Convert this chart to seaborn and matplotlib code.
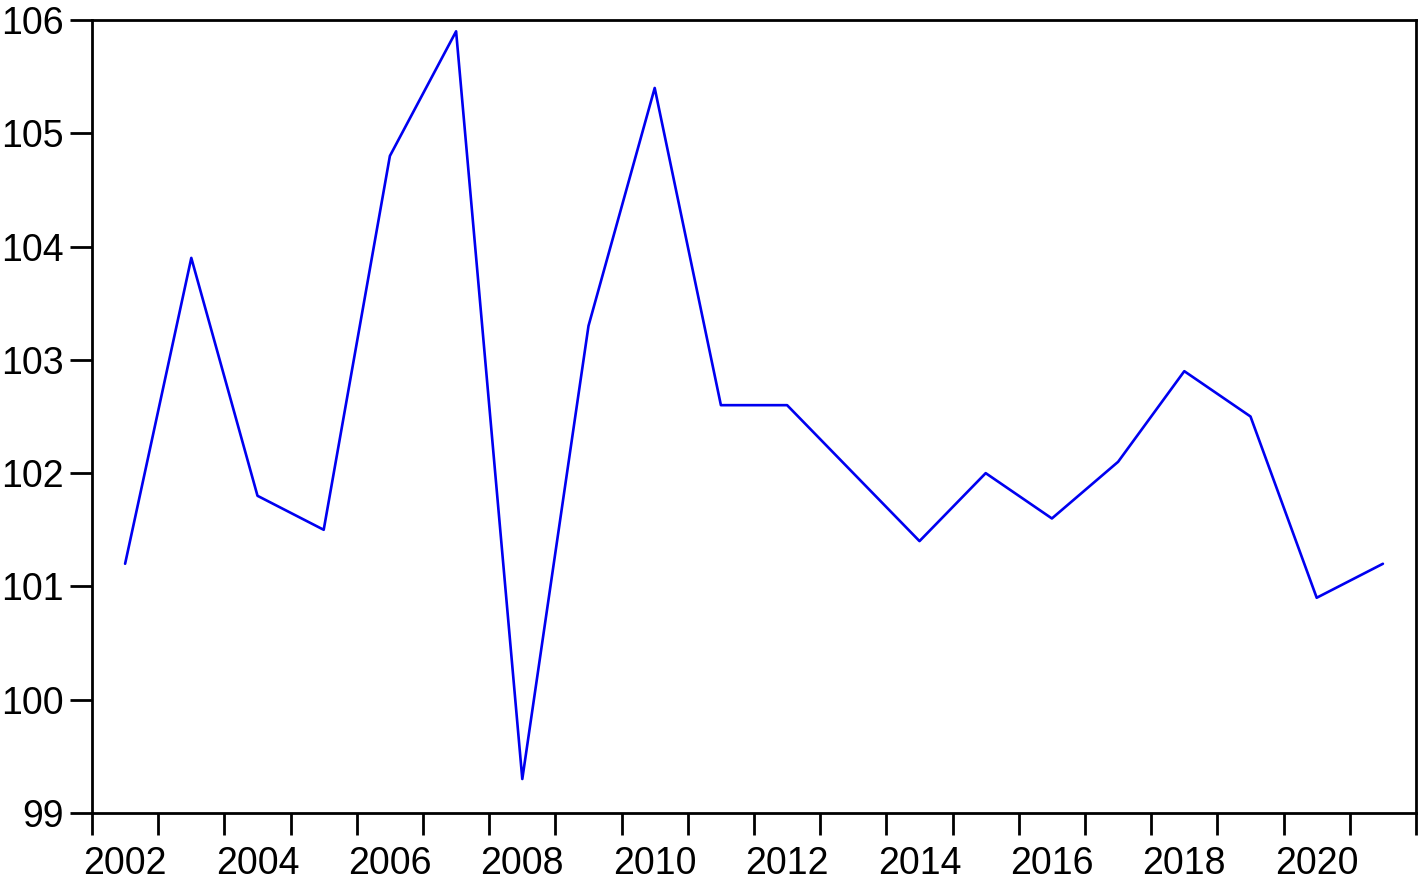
import matplotlib
matplotlib.use("Agg")
import matplotlib.pyplot as plt
import seaborn as sns
import pandas as pd
from matplotlib.ticker import FixedLocator, NullFormatter

# ── Data ────────────────────────────────────────────────
years = list(range(2002, 2022))
values = [101.2, 103.9, 101.8, 101.5, 104.8, 105.9, 99.3, 103.3, 105.4, 102.6,
          102.6, 102.0, 101.4, 102.0, 101.6, 102.1, 102.9, 102.5, 100.9, 101.2]
y_ticks = [99, 100, 101, 102, 103, 104, 105, 106]
x_labels = list(range(2002, 2022, 2))

df = pd.DataFrame({"year": years, "value": values})

# ── Style ───────────────────────────────────────────────
sns.set_style("white")
plt.rcParams["font.family"] = ["Liberation Sans", "DejaVu Sans"]

fig = plt.figure(figsize=(14.21, 8.83), dpi=100)
ax = fig.add_axes([92 / 1421, 1 - 813 / 883, (1416 - 92) / 1421, (813 - 20) / 883])

sns.lineplot(data=df, x="year", y="value", ax=ax, color="#0000f0", linewidth=1.9)

ax.set_xlim(years[0] - 0.5, years[-1] + 0.5)
ax.set_ylim(y_ticks[0], y_ticks[-1])
ax.set_yticks(y_ticks)

# year-boundary ticks, labels centred in the year
ax.xaxis.set_major_locator(FixedLocator([y - 0.5 for y in years] + [years[-1] + 0.5]))
ax.xaxis.set_major_formatter(NullFormatter())
ax.xaxis.set_minor_locator(FixedLocator(x_labels))
ax.set_xticklabels([str(y) for y in x_labels], minor=True)

ax.tick_params(axis="x", which="major", direction="out", length=16, width=2,
               bottom=True, color="black")
ax.tick_params(axis="x", which="minor", length=0, labelsize=27, pad=24,
               bottom=True, labelcolor="black")
ax.tick_params(axis="y", direction="out", length=16, width=2, labelsize=27, pad=4,
               left=True, color="black", labelcolor="black")

for s in ax.spines.values():
    s.set_visible(True)
    s.set_color("black")
    s.set_linewidth(2)

ax.set_xlabel("")
ax.set_ylabel("")

fig.savefig("out.png", dpi=100)
